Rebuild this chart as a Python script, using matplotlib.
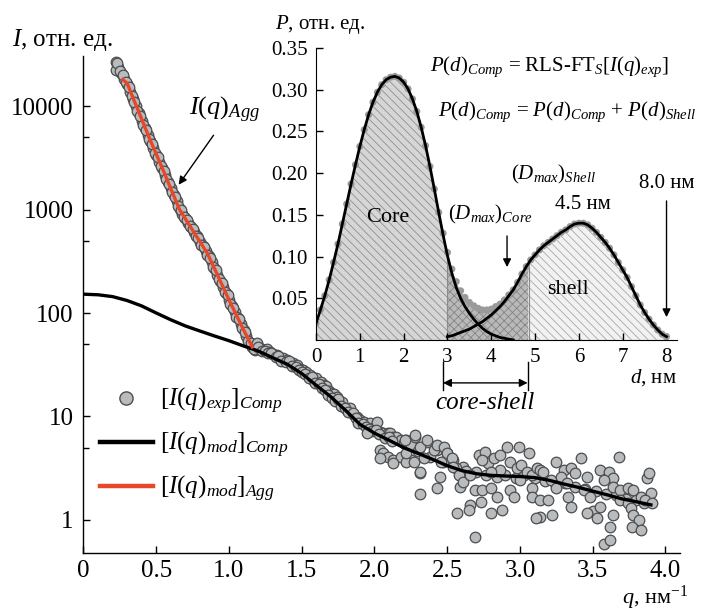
import matplotlib
matplotlib.use("Agg")
import matplotlib.pyplot as plt
from matplotlib.lines import Line2D

plt.rcParams['font.family'] = 'Liberation Serif'
plt.rcParams['mathtext.fontset'] = 'custom'
plt.rcParams['mathtext.rm'] = 'Liberation Serif'
plt.rcParams['mathtext.it'] = 'Liberation Serif:italic'
plt.rcParams['mathtext.bf'] = 'Liberation Serif:bold'
plt.rcParams['hatch.linewidth'] = 0.6

# ---- main plot data: scattering curves ----
# aggregate part of the experimental curve (dense points at small q)
agg_q = [0.22, 0.24, 0.26, 0.28, 0.30, 0.32, 0.34, 0.36, 0.38, 0.40,
         0.42, 0.44, 0.46, 0.48, 0.50, 0.52, 0.54, 0.56, 0.58, 0.60,
         0.62, 0.64, 0.66, 0.68, 0.70, 0.72, 0.74, 0.76, 0.78, 0.80,
         0.82, 0.84, 0.86, 0.88, 0.90, 0.92, 0.94, 0.96, 0.98, 1.00,
         1.02, 1.04, 1.06, 1.08, 1.10, 1.12, 1.14, 1.16, 1.18,
         0.22, 0.23, 0.25, 0.27, 0.29, 0.31, 0.33, 0.35, 0.37, 0.39,
         0.41, 0.43, 0.45, 0.47, 0.49, 0.51, 0.53, 0.55, 0.57, 0.59,
         0.61, 0.63, 0.65, 0.67, 0.69, 0.71, 0.73, 0.75, 0.77, 0.79,
         0.81, 0.83, 0.85, 0.87, 0.89, 0.91, 0.93, 0.95, 0.97, 0.99,
         1.01, 1.03, 1.05, 1.07, 1.09, 1.11, 1.13, 1.15, 1.17]
agg_I = [26900, 24000, 21000, 18300, 16200, 13800, 11700, 10000, 8500, 7200,
         6100, 5250, 4570, 3900, 3390, 2900, 2500, 2150, 1860, 1600,
         1380, 1200, 1020, 910, 830, 740, 675, 600, 550, 490,
         445, 400, 355, 310, 270, 235, 205, 178, 155, 134,
         118, 103, 90, 79, 69, 60, 53, 47, 44,
         22500, 25800, 22000, 19900, 17000, 15200, 12500, 11000, 9000, 7950,
         6500, 5800, 4750, 4300, 3550, 3200, 2620, 2380, 1950, 1770,
         1460, 1320, 1080, 990, 850, 800, 690, 650, 560, 535,
         455, 430, 365, 340, 280, 258, 212, 196, 160, 148,
         122, 112, 92, 87, 71, 66, 54, 51, 45]

# composite part of the experimental curve
comp_q = [1.19, 1.21, 1.24, 1.26, 1.28, 1.30, 1.33, 1.35, 1.37, 1.40,
          1.42, 1.44, 1.47, 1.49, 1.51, 1.53, 1.56, 1.58, 1.60, 1.63,
          1.65, 1.67, 1.69, 1.70, 1.72, 1.74, 1.76, 1.78, 1.81, 1.83,
          1.86, 1.88, 1.90, 1.93, 1.95, 1.97, 1.99, 2.02, 2.04, 2.06,
          2.09, 2.11, 2.13, 2.15, 2.18, 2.20, 2.22, 2.25,
          1.20, 1.23, 1.25, 1.27, 1.29, 1.32, 1.34, 1.36, 1.39, 1.41,
          1.43, 1.46, 1.48, 1.50, 1.52, 1.55, 1.57, 1.59, 1.62, 1.64,
          1.66, 1.68, 1.71, 1.73, 1.75, 1.77, 1.80, 1.82, 1.85, 1.87,
          1.89, 1.92, 1.94, 1.96, 1.98, 2.01, 2.03, 2.07, 2.10, 2.12,
          1.95, 2.04, 2.06, 2.09, 2.13, 2.18, 2.04, 2.13, 2.25, 2.22,
          2.28, 2.36, 2.43, 2.50, 2.54, 2.61, 2.31,
          2.30, 2.38, 2.47, 2.56, 2.63, 2.70, 2.77, 2.84, 2.90, 2.97,
          3.03, 3.10, 3.17, 3.24, 3.31, 3.38, 3.45, 3.52, 3.59, 3.66,
          3.73, 3.80, 3.85,
          2.21, 2.28, 2.31, 2.36, 2.41, 2.22, 2.27, 2.34, 2.43, 2.48,
          2.50, 2.46, 2.53, 2.54, 2.31, 2.45, 2.43, 2.31, 2.58, 2.59,
          2.61, 2.66, 2.69, 2.72, 2.76, 2.78, 2.74, 2.82, 2.86, 2.91,
          2.99, 3.06, 2.93, 2.98, 3.01, 2.86, 2.80, 2.74, 2.80, 2.84,
          2.88, 2.80, 2.73, 2.66, 2.65, 2.57, 2.69, 2.93, 2.96, 3.00,
          3.05, 3.08, 3.12, 3.14, 3.16, 3.08, 3.08, 3.14, 3.19, 3.14,
          3.22, 3.11, 3.21, 3.25, 3.30, 3.35, 3.38, 3.42, 3.46, 3.28,
          3.32, 3.25, 3.33, 3.35, 3.44, 3.48, 3.50, 3.53, 3.55, 3.46,
          3.55, 3.61, 3.64, 3.68, 3.58, 3.64, 3.69, 3.74, 3.78, 3.83,
          3.87, 3.89, 3.90, 3.86, 3.91, 3.69, 3.74, 3.76, 3.64, 3.78,
          3.82, 3.77, 3.83, 3.62, 3.58, 3.62]
comp_I = [51, 46, 44, 45, 42, 40, 39, 37, 36.5, 35,
          32.7, 33, 31.5, 29, 28.2, 27, 25.2, 22.5, 23.5, 21.7,
          20, 19.5, 17.5, 16.8, 16.5, 15.6, 13.4, 13.8, 11.6, 12.2,
          10.4, 9.8, 9.3, 8.9, 8.3, 8.6, 7.7, 8.9, 7.1, 6.9,
          6.9, 6.9, 6.4, 6.4, 5.9, 5.5, 5.9, 5.3,
          47, 43, 42.5, 41, 41.5, 37.5, 38, 34.5, 33.5, 34,
          30.5, 30, 28, 27, 26, 23.5, 24, 21, 20.5, 19,
          18, 16, 15.2, 14, 14.6, 12.6, 12.2, 11, 10.8, 9.6,
          8.7, 8.4, 7.9, 7.6, 7.2, 7.4, 6.7, 6.2, 6.3, 5.8,
          6.9, 4.75, 4.4, 4.1, 3.8, 4.1, 3.95, 3.53, 3.8, 3.67,
          6.4, 5.7, 4.75, 4.4, 3.8, 3.27, 2.82,
          4.6, 4.1, 3.6, 3.2, 3.0, 2.9, 2.75, 2.6, 2.7, 2.55,
          2.7, 2.55, 2.4, 2.3, 2.3, 2.1, 2.0, 1.9, 1.8, 1.75,
          1.6, 1.55, 1.45,
          5.93, 6.6, 5.1, 5.9, 4.7, 4.4, 3.65, 3.94, 5.3, 5.1,
          4.4, 3.65, 3.94, 3.27, 2.93, 2.62, 2.02, 1.78, 2.72, 2.10,
          2.34, 2.72, 1.95, 4.24, 4.57, 3.52, 3.79, 3.94, 4.24, 5.1,
          5.1, 4.4, 3.65, 3.15, 3.39, 3.04, 2.93, 1.95, 2.02, 1.68,
          1.25, 1.16, 1.50, 1.40, 1.25, 1.16, 0.69, 1.95, 1.68, 2.43,
          2.93, 2.72, 3.15, 3.04, 2.93, 2.02, 1.68, 1.56, 1.56, 1.08,
          1.12, 1.04, 2.43, 3.65, 3.04, 3.15, 2.82, 3.94, 2.62, 2.62,
          2.26, 2.02, 1.68, 1.35, 1.95, 1.68, 1.21, 1.04, 1.35, 1.16,
          3.04, 2.93, 2.52, 4.08, 2.43, 2.10, 1.95, 2.02, 1.95, 1.68,
          2.52, 2.82, 1.81, 1.56, 1.45, 1.56, 1.45, 1.30, 1.12, 1.12,
          1.00, 0.86, 0.80, 0.86, 0.59, 0.64]

# model curve for the composite
mod_q = [0.0, 0.1, 0.2, 0.3, 0.4, 0.5, 0.6, 0.7, 0.8, 0.9,
         1.0, 1.1, 1.2, 1.3, 1.4, 1.5, 1.6, 1.7, 1.8, 1.9,
         2.0, 2.1, 2.2, 2.3, 2.4, 2.5, 2.6, 2.7, 2.8, 2.9,
         3.0, 3.1, 3.2, 3.3, 3.4, 3.5, 3.6, 3.7, 3.8, 3.9]
mod_I = [152, 150, 144, 132, 117, 100, 86, 75, 67, 60,
         54, 48, 43, 37, 32, 26, 20, 15.5, 11.5, 8.4,
         6.9, 5.9, 5.0, 4.4, 3.85, 3.35, 3.0, 2.8, 2.7, 2.66,
         2.63, 2.57, 2.42, 2.23, 2.07, 1.9, 1.75, 1.6, 1.5, 1.4]

# model curve for the aggregates
agg_mod_q = [0.27, 0.30, 0.35, 0.40, 0.45, 0.50, 0.55, 0.60, 0.66, 0.70,
             0.75, 0.80, 0.85, 0.90, 0.95, 1.00, 1.05, 1.10, 1.16]
agg_mod_I = [18000, 16600, 11100, 7480, 5000, 3430, 2350, 1590, 1000, 815,
             630, 490, 380, 270, 190, 134, 96, 69, 47]

# ---- inset data: distance distribution ----
core_d = [0.0, 0.1, 0.2, 0.3, 0.4, 0.5, 0.6, 0.7, 0.8, 0.9,
          1.0, 1.1, 1.2, 1.3, 1.4, 1.5, 1.6, 1.7, 1.8, 1.9,
          2.0, 2.1, 2.2, 2.3, 2.4, 2.5, 2.6, 2.7, 2.8, 2.9,
          3.0, 3.1, 3.2, 3.3, 3.4, 3.5, 3.6, 3.7, 3.8, 3.9,
          4.0, 4.1, 4.2, 4.3, 4.4, 4.5]
core_P = [0.020, 0.036, 0.053, 0.072, 0.093, 0.115, 0.139, 0.163, 0.187, 0.210,
          0.232, 0.252, 0.270, 0.285, 0.297, 0.306, 0.312, 0.315, 0.316, 0.314,
          0.309, 0.301, 0.289, 0.274, 0.255, 0.233, 0.208, 0.181, 0.153, 0.126,
          0.101, 0.080, 0.063, 0.050, 0.040, 0.032, 0.025, 0.019, 0.014, 0.010,
          0.007, 0.005, 0.003, 0.002, 0.001, 0.000]

shell_d = [3.0, 3.1, 3.2, 3.3, 3.4, 3.5, 3.6, 3.7, 3.8, 3.9,
           4.0, 4.1, 4.2, 4.3, 4.4, 4.5, 4.6, 4.7, 4.8, 4.9,
           5.0, 5.1, 5.2, 5.3, 5.4, 5.5, 5.6, 5.7, 5.8, 5.9,
           6.0, 6.1, 6.2, 6.3, 6.4, 6.5, 6.6, 6.7, 6.8, 6.9,
           7.0, 7.1, 7.2, 7.3, 7.4, 7.5, 7.6, 7.7, 7.8, 7.9, 8.0]
shell_P = [0.004, 0.005, 0.007, 0.009, 0.011, 0.013, 0.016, 0.019, 0.022, 0.026,
           0.030, 0.035, 0.040, 0.046, 0.053, 0.060, 0.069, 0.079, 0.088, 0.096,
           0.102, 0.108, 0.113, 0.117, 0.121, 0.125, 0.129, 0.132, 0.136, 0.139,
           0.140, 0.140, 0.138, 0.134, 0.129, 0.123, 0.117, 0.110, 0.102, 0.093,
           0.084, 0.075, 0.064, 0.053, 0.042, 0.033, 0.025, 0.018, 0.012, 0.007, 0.004]

# experimental P(d) points (grey dots)
pd_d = [0.0, 0.1, 0.2, 0.3, 0.4, 0.5, 0.6, 0.7, 0.8, 0.9,
        1.0, 1.1, 1.2, 1.3, 1.4, 1.5, 1.6, 1.7, 1.8, 1.9,
        2.0, 2.1, 2.2, 2.3, 2.4, 2.5, 2.6, 2.7, 2.8, 2.9,
        3.0, 3.1, 3.2, 3.3, 3.4, 3.5, 3.6, 3.7, 3.8, 3.9,
        4.0, 4.1, 4.2, 4.3, 4.4, 4.5, 4.6, 4.7, 4.8, 4.9,
        5.0, 5.1, 5.2, 5.3, 5.4, 5.5, 5.6, 5.7, 5.8, 5.9,
        6.0, 6.1, 6.2, 6.3, 6.4, 6.5, 6.6, 6.7, 6.8, 6.9,
        7.0, 7.1, 7.2, 7.3, 7.4, 7.5, 7.6, 7.7, 7.8, 7.9, 8.0]
pd_P = [0.020, 0.036, 0.053, 0.072, 0.093, 0.115, 0.139, 0.163, 0.187, 0.210,
        0.232, 0.252, 0.270, 0.285, 0.297, 0.306, 0.312, 0.315, 0.316, 0.314,
        0.309, 0.301, 0.289, 0.274, 0.255, 0.233, 0.208, 0.181, 0.153, 0.128,
        0.105, 0.085, 0.070, 0.059, 0.051, 0.045, 0.041, 0.038, 0.036, 0.036,
        0.037, 0.040, 0.043, 0.048, 0.054, 0.060, 0.069, 0.079, 0.088, 0.096,
        0.102, 0.108, 0.113, 0.117, 0.121, 0.125, 0.129, 0.132, 0.136, 0.139,
        0.140, 0.140, 0.138, 0.134, 0.129, 0.123, 0.117, 0.110, 0.102, 0.093,
        0.084, 0.075, 0.064, 0.053, 0.042, 0.033, 0.025, 0.018, 0.012, 0.007, 0.004]

core_edge = 3.0
shell_edge = 4.85

fig = plt.figure(figsize=(7.04, 6.13), dpi=100)

# ---------------- main axes ----------------
ax = fig.add_axes([0.1186, 0.0979, 0.8473, 0.8107])
ax.scatter(agg_q + comp_q, agg_I + comp_I, s=58, facecolor='#b8bcbf',
           edgecolor='#4d4d4d', linewidth=0.9, zorder=2)
ax.plot(mod_q, mod_I, color='black', lw=2.4, zorder=3)
ax.plot(agg_mod_q, agg_mod_I, color='#e8472a', lw=2.4, zorder=4)

ax.set_yscale('log')
ax.set_xlim(0, 4.1)
ax.set_ylim(0.48, 30400)
ax.set_xticks([0, 0.5, 1.0, 1.5, 2.0, 2.5, 3.0, 3.5, 4.0])
ax.set_xticklabels(['0', '0.5', '1.0', '1.5', '2.0', '2.5', '3.0', '3.5', '4.0'])
ax.set_yticks([1, 10, 100, 1000, 10000])
ax.set_yticklabels(['1', '10', '100', '1000', '10000'])
ax.set_yticks([5, 50, 500, 5000], minor=True)
ax.yaxis.set_minor_formatter(plt.NullFormatter())
ax.tick_params(which='both', direction='in', labelsize=18, width=1.0)
ax.tick_params(which='major', length=5, pad=7)
ax.tick_params(axis='x', which='major', pad=5)
ax.tick_params(which='minor', length=4)
for side in ['top', 'right']:
    ax.spines[side].set_visible(False)
for side in ['left', 'bottom']:
    ax.spines[side].set_linewidth(1.0)

fig.text(0.017, 0.935, r'$I$, отн. ед.', fontsize=18, va='center', ha='left')
fig.text(0.978, 0.024, r'$q$, нм$^{-1}$', fontsize=16, va='center', ha='right')

ax.annotate('', xy=(0.643, 1650), xytext=(0.905, 5490),
            arrowprops=dict(arrowstyle='-|>', color='black', lw=1.0,
                            mutation_scale=12))
ax.text(0.966, 9150, r'$I(q)_{Agg}$', fontsize=19, ha='center', va='center')

handles = [Line2D([], [], ls='none', marker='o', markersize=9.5,
                  markerfacecolor='#b8bcbf', markeredgecolor='#4d4d4d'),
           Line2D([], [], color='black', lw=3.2),
           Line2D([], [], color='#e8472a', lw=3.2)]
labels = [r'$[I(q)_{exp}]_{Comp}$', r'$[I(q)_{mod}]_{Comp}$', r'$[I(q)_{mod}]_{Agg}$']
ax.legend(handles, labels, loc='center left', bbox_to_anchor=(0.028, 0.217),
          frameon=False, fontsize=18, handlelength=2.1, handletextpad=0.3,
          labelspacing=0.55, borderpad=0, borderaxespad=0)

# ---------------- inset ----------------
ax_in = fig.add_axes([0.4489, 0.4454, 0.5128, 0.4763])
ax_in.patch.set_alpha(0)

core_mask_d = [d for d in pd_d if d <= core_edge]
core_mask_P = pd_P[:len(core_mask_d)]
mid_d = [d for d in pd_d if core_edge <= d <= 4.8] + [shell_edge]
mid_P = [p for d, p in zip(pd_d, pd_P) if core_edge <= d <= 4.8] + [0.092]
sh_d = [shell_edge] + [d for d in shell_d if d > shell_edge]
sh_P = [0.092] + [p for d, p in zip(shell_d, shell_P) if d > shell_edge]

ax_in.fill_between(core_mask_d, 0, core_mask_P, facecolor='#d6d6d6',
                   edgecolor='#8f8f8f', hatch='\\\\\\\\', lw=0, zorder=1)
ax_in.fill_between(mid_d, 0, mid_P, facecolor='#b9b9b9',
                   edgecolor='#858585', hatch='xxxx', lw=0, zorder=1)
ax_in.fill_between(sh_d, 0, sh_P, facecolor='#f2f2f2',
                   edgecolor='#a8a8a8', hatch='\\\\\\\\', lw=0, zorder=1)
ax_in.vlines([core_edge, shell_edge], 0, [0.105, 0.092], color='#8a8a8a', lw=0.8, zorder=1)

ax_in.scatter(pd_d, pd_P, s=26, color='#9a9a9a', edgecolor='none', zorder=2)
ax_in.plot(core_d, core_P, color='black', lw=2.0, zorder=3)
ax_in.plot(shell_d, shell_P, color='black', lw=2.0, zorder=3)

ax_in.set_xlim(0, 8.24)
ax_in.set_ylim(0, 0.35)
ax_in.set_xticks([0, 1, 2, 3, 4, 5, 6, 7, 8])
ax_in.set_yticks([0.05, 0.10, 0.15, 0.20, 0.25, 0.30, 0.35])
ax_in.set_yticklabels(['0.05', '0.10', '0.15', '0.20', '0.25', '0.30', '0.35'])
ax_in.tick_params(direction='in', labelsize=15, length=5, width=1.0, pad=6)
for side in ['top', 'right']:
    ax_in.spines[side].set_visible(False)

ax_in.text(-0.114, 1.079, r'$P$, отн. ед.', transform=ax_in.transAxes,
           fontsize=15, ha='left', va='center')
ax_in.text(1.0, -0.13, r'$d$, нм', transform=ax_in.transAxes,
           fontsize=15, ha='right', va='center')

ax_in.text(1.64, 0.147, 'Core', fontsize=16, ha='center', va='center')
ax_in.text(5.75, 0.060, 'shell', fontsize=16, ha='center', va='center')
ax_in.text(3.97, 0.150, r'$(D_{max})_{Core}$', fontsize=15, ha='center', va='center')
ax_in.text(6.09, 0.162, '4.5 нм', fontsize=15, ha='center', va='center')
ax_in.text(5.41, 0.198, r'$(D_{max})_{Shell}$', fontsize=15, ha='center', va='center')
ax_in.text(8.0, 0.188, '8.0 нм', fontsize=15, ha='center', va='center', clip_on=False)
ax_in.annotate('', xy=(4.36, 0.084), xytext=(4.36, 0.128),
               arrowprops=dict(arrowstyle='-|>', color='black', lw=1.0, mutation_scale=12))
ax_in.annotate('', xy=(8.0, 0.024), xytext=(8.0, 0.170),
               arrowprops=dict(arrowstyle='-|>', color='black', lw=1.0, mutation_scale=12))

ax_in.text(2.6, 0.327, r'$P(d)_{Comp}$ = RLS-FT$_S[I(q)_{exp}]$', fontsize=15,
           ha='left', va='center')
ax_in.text(2.78, 0.273, r'$P(d)_{Comp}$ = $P(d)_{Comp}$ + $P(d)_{Shell}$', fontsize=15,
           ha='left', va='center', clip_on=False)

# core-shell bracket below the inset
tr = ax_in.get_xaxis_transform()
ax_in.plot([2.9, 2.9], [-0.075, -0.171], color='black', lw=1.0,
           transform=tr, clip_on=False)
ax_in.plot([4.83, 4.83], [-0.075, -0.171], color='black', lw=1.0,
           transform=tr, clip_on=False)
ax_in.annotate('', xy=(2.9, -0.147), xytext=(4.83, -0.147),
               xycoords=tr, textcoords=tr,
               arrowprops=dict(arrowstyle='<|-|>', color='black', lw=1.0,
                               mutation_scale=12, shrinkA=0, shrinkB=0))
ax_in.text(3.85, -0.216, 'core-shell', transform=tr, fontsize=18,
           style='italic', ha='center', va='center')

fig.savefig('out.png', dpi=100)
